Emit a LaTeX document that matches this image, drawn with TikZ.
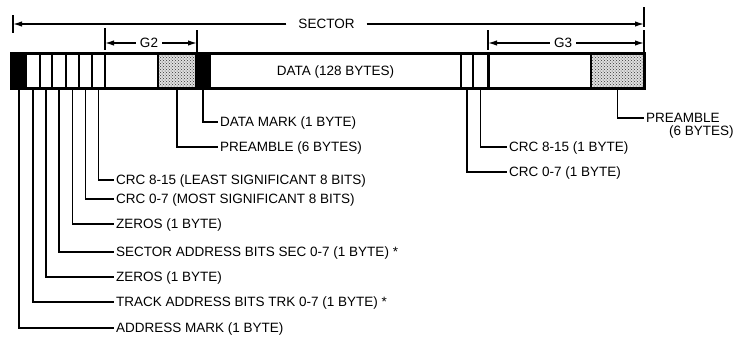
\documentclass[tikz,border=0pt]{standalone}
\usepackage{fontspec}
\setmainfont{Liberation Sans}
\usetikzlibrary{arrows.meta,patterns}
\begin{document}
\begin{tikzpicture}[x=1pt,y=-1pt,
  txt/.style={font=\fontsize{13.5}{15}\selectfont, inner sep=0pt, text height=9.5pt, text depth=0pt},
  lbl/.style={txt, anchor=west, inner xsep=2pt},
  cellbox/.style={draw, line width=1.4pt, minimum height=34pt, inner sep=0pt, anchor=center},
  blackcell/.style={cellbox, fill=black},
  stipple/.style={cellbox, preaction={fill=gray!25}, pattern=crosshatch dots, pattern color=black!80},
  leader/.style={line width=1.4pt},
  dim/.style={line width=1.4pt, -{Latex[length=9pt,width=5.5pt]}},
  tickmark/.style={line width=1.5pt},
]
\useasboundingbox (0,0) rectangle (743,341);

% cells of the sector
\node[blackcell, minimum width=14pt] (am)   at (19,71) {};
\node[cellbox,   minimum width=14pt] (trk)  at (33,71) {};
\node[cellbox,   minimum width=12pt] (z1)   at (46,71) {};
\node[cellbox,   minimum width=14pt] (sec)  at (59,71) {};
\node[cellbox,   minimum width=13pt] (z2)   at (72.5,71) {};
\node[cellbox,   minimum width=13pt] (crcA) at (85.5,71) {};
\node[cellbox,   minimum width=13pt] (crcB) at (98.5,71) {};
\node[cellbox,   minimum width=53pt] (gap2) at (131.5,71) {};
\node[stipple,   minimum width=38pt] (pre1) at (177,71) {};
\node[blackcell, minimum width=14pt] (dm)   at (203,71) {};
\node[cellbox,   minimum width=251pt, txt] (data) at (335.5,71) {DATA (128 BYTES)};
\node[cellbox,   minimum width=12pt] (crcC) at (467,71) {};
\node[cellbox,   minimum width=15pt] (crcD) at (480.5,71) {};
\node[cellbox,   minimum width=103pt] (gap3) at (539.5,71) {};
\node[stipple,   minimum width=53pt] (pre2) at (617.5,71) {};
\draw[line width=2.4pt] (am.north west) rectangle (pre2.south east);
\draw[line width=2.6pt] (crcD.north east) -- (crcD.south east);

% dimension lines
\node[txt, inner xsep=12pt] (sect) at (326.5,24) {SECTOR};
\coordinate (sectL) at (13,24);
\coordinate (sectR) at (644,24);
\draw[dim] (sect.west) -- (sectL);
\draw[dim] (sect.east) -- (sectR);
\draw[tickmark] (13,15) -- (13,33);
\draw[tickmark] (644,7) -- (644,27);

\node[txt, inner xsep=4pt] (g2) at (149,43) {G2};
\coordinate (g2L) at (105,43);
\coordinate (g2R) at (197,43);
\draw[dim] (g2.west) -- (g2L);
\draw[dim] (g2.east) -- (g2R);
\draw[tickmark] (105,28) -- (105,50);
\draw[tickmark] (197,30) -- (197,54);

\node[txt, inner xsep=4pt] (g3) at (563,43) {G3};
\coordinate (g3L) at (488,43);
\coordinate (g3R) at (644,43);
\draw[dim] (g3.west) -- (g3L);
\draw[dim] (g3.east) -- (g3R);
\draw[tickmark] (488,30) -- (488,50);
\draw[tickmark] (644,30) -- (644,54);

% labels
\node[lbl] (ldm)   at (218,122) {DATA MARK (1 BYTE)};
\node[lbl] (lpre1) at (218,147) {PREAMBLE (6 BYTES)};
\node[lbl] (lcrcB) at (114,180) {CRC 8-15 (LEAST SIGNIFICANT 8 BITS)};
\node[lbl] (lcrcA) at (114,199) {CRC 0-7 (MOST SIGNIFICANT 8 BITS)};
\node[lbl] (lz2)   at (114,224) {ZEROS (1 BYTE)};
\node[lbl] (lsec)  at (114,252) {SECTOR ADDRESS BITS SEC 0-7 (1 BYTE) *};
\node[lbl] (lz1)   at (114,277) {ZEROS (1 BYTE)};
\node[lbl] (ltrk)  at (114,302) {TRACK ADDRESS BITS TRK 0-7 (1 BYTE) *};
\node[lbl] (lam)   at (114,328) {ADDRESS MARK (1 BYTE)};
\node[lbl] (lcrcD) at (507,147) {CRC 8-15 (1 BYTE)};
\node[lbl] (lcrcC) at (507,172) {CRC 0-7 (1 BYTE)};
\node[lbl] (lpre2) at (644,118) {PREAMBLE};
\node[txt, anchor=west] (lpre2b) at (669,131) {(6 BYTES)};

% leaders
\draw[leader] (dm.south)   |- (ldm.west);
\draw[leader] (pre1.south) |- (lpre1.west);
\draw[leader] (crcB.south) |- (lcrcB.west);
\draw[leader] (crcA.south) |- (lcrcA.west);
\draw[leader] (z2.south)   |- (lz2.west);
\draw[leader] (sec.south)  |- (lsec.west);
\draw[leader] (z1.south)   |- (lz1.west);
\draw[leader] (trk.south)  |- (ltrk.west);
\draw[leader] (am.south)   |- (lam.west);
\draw[leader] (crcD.south) |- (lcrcD.west);
\draw[leader] (crcC.south) |- (lcrcC.west);
\draw[leader] (pre2.south) |- (lpre2.west);
\end{tikzpicture}
\end{document}
